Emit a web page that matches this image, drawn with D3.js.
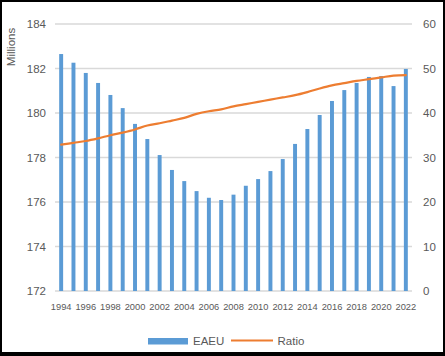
<!DOCTYPE html>
<html>
<head>
<meta charset="utf-8">
<script src="https://cdn.jsdelivr.net/npm/d3@7"></script>
<style>
  html, body { margin: 0; padding: 0; background: #000; }
  #wrap { position: absolute; left: 2px; top: 2px; width: 441px; height: 350px; background: #fff; }
  svg { position: absolute; left: -2px; top: -2px; }
  text { font-family: "Liberation Sans", Arial, sans-serif; fill: #595959; }
</style>
</head>
<body>
<div id="wrap"></div>
<script>
const years = d3.range(1994, 2023).map(String);
const eaeu = [182.65, 182.26, 181.80, 181.35, 180.81, 180.22, 179.51, 178.83, 178.11, 177.44,
              176.94, 176.49, 176.19, 176.09, 176.33, 176.73, 177.03, 177.39, 177.93, 178.61,
              179.28, 179.91, 180.54, 181.03, 181.35, 181.62, 181.66, 181.21, 181.98];
const ratio = [32.9, 33.3, 33.7, 34.3, 35.0, 35.6, 36.3, 37.2, 37.7, 38.3,
               38.9, 39.8, 40.4, 40.8, 41.5, 42.0, 42.5, 43.0, 43.5, 44.0,
               44.7, 45.5, 46.2, 46.7, 47.2, 47.6, 48.0, 48.4, 48.5];
const leftTicks = [172, 174, 176, 178, 180, 182, 184];
const rightTicks = [0, 10, 20, 30, 40, 50, 60];
const xTickLabels = years.filter((d, i) => i % 2 === 0);
const seriesNames = ["EAEU", "Ratio"];

const W = 445, H = 356;
const svg = d3.select("#wrap").append("svg").attr("width", W).attr("height", H);

const x = d3.scaleBand().domain(years).range([55, 412]).paddingInner(0.68).paddingOuter(0.34);
const yL = d3.scaleLinear().domain([172, 184]).range([291, 24]);
const yR = d3.scaleLinear().domain([0, 60]).range([291, 24]);
const FONT = "Liberation Sans, Arial, sans-serif";

// gridlines
svg.append("g").selectAll("line").data(leftTicks).join("line")
  .attr("x1", 55).attr("x2", 412)
  .attr("y1", d => yL(d)).attr("y2", d => yL(d))
  .attr("stroke", "#d9d9d9").attr("stroke-width", 1.5);

// left axis
const axL = svg.append("g").attr("transform", "translate(55,0)")
  .call(d3.axisLeft(yL).tickValues(leftTicks).tickSize(0).tickPadding(9).tickFormat(d3.format("d")));
axL.select(".domain").remove();
axL.selectAll("text").attr("font-size", 11.5).style("fill", "#595959").style("font-family", FONT);

// right axis
const axR = svg.append("g").attr("transform", "translate(412,0)")
  .call(d3.axisRight(yR).tickValues(rightTicks).tickSize(0).tickPadding(11).tickFormat(d3.format("d")));
axR.select(".domain").remove();
axR.selectAll("text").attr("font-size", 11.5).style("fill", "#595959").style("font-family", FONT);

// bottom axis labels
const axB = svg.append("g").attr("transform", "translate(0,291)")
  .call(d3.axisBottom(x).tickValues(xTickLabels).tickSize(0).tickPadding(12));
axB.select(".domain").remove();
axB.selectAll("text").attr("font-size", 9.3).style("fill", "#595959").style("font-family", FONT);

// Millions title
svg.append("text").attr("transform", "translate(15,47) rotate(-90)")
  .attr("text-anchor", "middle").attr("font-size", 11.5).text("Millions");

// bars
svg.append("g").selectAll("rect").data(years).join("rect")
  .attr("x", d => x(d)).attr("width", x.bandwidth())
  .attr("y", (d, i) => yL(eaeu[i])).attr("height", (d, i) => yL(172) - yL(eaeu[i]))
  .attr("fill", "#5b9bd5");

// line
const line = d3.line()
  .x((d, i) => x(years[i]) + x.bandwidth() / 2)
  .y(d => yR(d))
  .curve(d3.curveCatmullRom.alpha(0.5));
svg.append("path").datum(ratio).attr("d", line)
  .attr("fill", "none").attr("stroke", "#ed7d31").attr("stroke-width", 2.2).attr("stroke-linecap", "round");

// legend
const lg = svg.append("g");
lg.append("rect").attr("x", 148).attr("y", 338).attr("width", 40).attr("height", 6.5).attr("fill", "#5b9bd5");
lg.append("text").attr("x", 193).attr("y", 345).attr("font-size", 11.5).text(seriesNames[0]);
lg.append("line").attr("x1", 231).attr("x2", 273).attr("y1", 340.5).attr("y2", 340.5)
  .attr("stroke", "#ed7d31").attr("stroke-width", 2.2);
lg.append("text").attr("x", 277.5).attr("y", 345).attr("font-size", 11.5).text(seriesNames[1]);
</script>
</body>
</html>
